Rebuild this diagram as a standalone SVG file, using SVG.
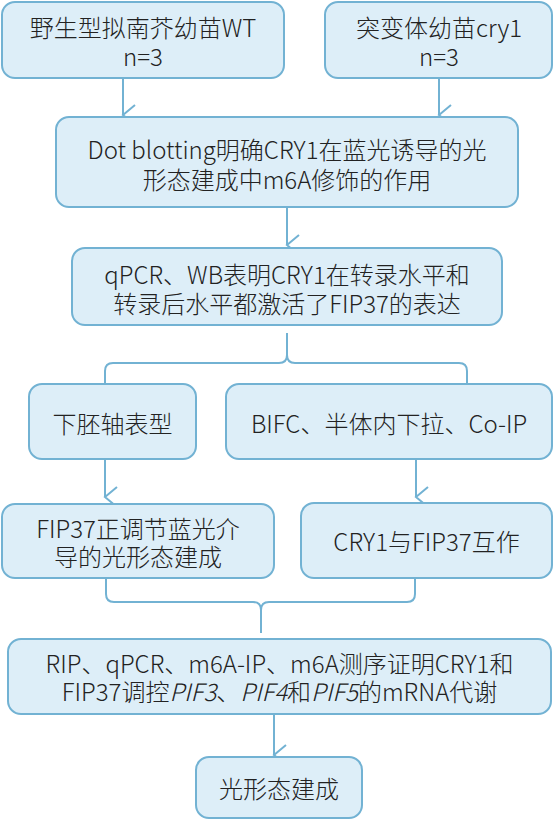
<svg xmlns="http://www.w3.org/2000/svg" width="554" height="820" viewBox="0 0 554 820">
<style>
.box{fill:#ddeef8;stroke:#72b2d3;stroke-width:2}
.t{font-family:"Noto Sans CJK SC","Noto Sans",sans-serif;font-size:24px;font-weight:300;fill:#222222;text-anchor:middle;dominant-baseline:central}
.c{fill:none;stroke:#72b2d3;stroke-width:2}
.i{font-style:italic}
</style>
<defs>
<marker id="ah" markerWidth="24" markerHeight="24" refX="12" refY="13" orient="auto" markerUnits="userSpaceOnUse" viewBox="0 0 24 24">
<path d="M2,1 L12,13 L22,1" fill="none" stroke="#72b2d3" stroke-width="2"/>
</marker>
</defs>
<rect width="554" height="820" fill="#ffffff"/>
<g id="connectors">
<line class="c" x1="123" y1="78" x2="123" y2="115" marker-end="url(#ah)"/>
<line class="c" x1="439" y1="78" x2="439" y2="115" marker-end="url(#ah)"/>
<line class="c" x1="287" y1="207" x2="287" y2="245" marker-end="url(#ah)"/>
<path class="c" d="M287,333 V355 Q287,363 279,363 H113 Q105,363 105,371 V383"/>
<path class="c" d="M287,355 Q287,363 295,363 H459 Q467,363 467,371 V383"/>
<line class="c" x1="105" y1="459" x2="105" y2="497" marker-end="url(#ah)"/>
<line class="c" x1="416" y1="459" x2="416" y2="497" marker-end="url(#ah)"/>
<path class="c" d="M106,578 V594 Q106,602 114,602 H253 Q261,602 261,610 V633"/>
<path class="c" d="M415,578 V594 Q415,602 407,602 H269 Q261,602 261,610"/>
<line class="c" x1="274" y1="714" x2="274" y2="755" marker-end="url(#ah)"/>
</g>
<g id="n1">
<rect class="box" x="2" y="2" width="282" height="76" rx="13"/>
<text class="t" x="143" y="26">野生型拟南芥幼苗WT</text>
<text class="t" x="143" y="55">n=3</text>
</g>
<g id="n2">
<rect class="box" x="325" y="2" width="227" height="76" rx="13"/>
<text class="t" x="439" y="26">突变体幼苗cry1</text>
<text class="t" x="439" y="55">n=3</text>
</g>
<g id="n3">
<rect class="box" x="56" y="117" width="462" height="90" rx="13"/>
<text class="t" x="287" y="148">Dot blotting明确CRY1在蓝光诱导的光</text>
<text class="t" x="287" y="178">形态建成中m6A修饰的作用</text>
</g>
<g id="n4">
<rect class="box" x="72" y="248" width="430" height="77" rx="13"/>
<text class="t" x="287" y="273">qPCR、WB表明CRY1在转录水平和</text>
<text class="t" x="287" y="302">转录后水平都激活了FIP37的表达</text>
</g>
<g id="n5">
<rect class="box" x="29" y="384" width="167" height="75" rx="13"/>
<text class="t" x="112.5" y="422">下胚轴表型</text>
</g>
<g id="n6">
<rect class="box" x="226" y="384" width="326" height="75" rx="13"/>
<text class="t" x="389" y="422">BIFC、半体内下拉、Co-IP</text>
</g>
<g id="n7">
<rect class="box" x="2" y="504" width="272" height="74" rx="13"/>
<text class="t" x="138" y="527">FIP37正调节蓝光介</text>
<text class="t" x="138" y="555">导的光形态建成</text>
</g>
<g id="n8">
<rect class="box" x="301" y="503" width="251" height="75" rx="13"/>
<text class="t" x="426.5" y="540">CRY1与FIP37互作</text>
</g>
<g id="n9">
<rect class="box" x="8" y="639" width="543" height="75" rx="13"/>
<text class="t" x="279.5" y="662">RIP、qPCR、m6A-IP、m6A测序证明CRY1和</text>
<text class="t" x="279.5" y="690">FIP37调控<tspan class="i">PIF3</tspan>、<tspan class="i">PIF4</tspan>和<tspan class="i">PIF5</tspan>的mRNA代谢</text>
</g>
<g id="n10">
<rect class="box" x="196" y="757" width="166" height="61" rx="13"/>
<text class="t" x="279" y="787">光形态建成</text>
</g>
</svg>
